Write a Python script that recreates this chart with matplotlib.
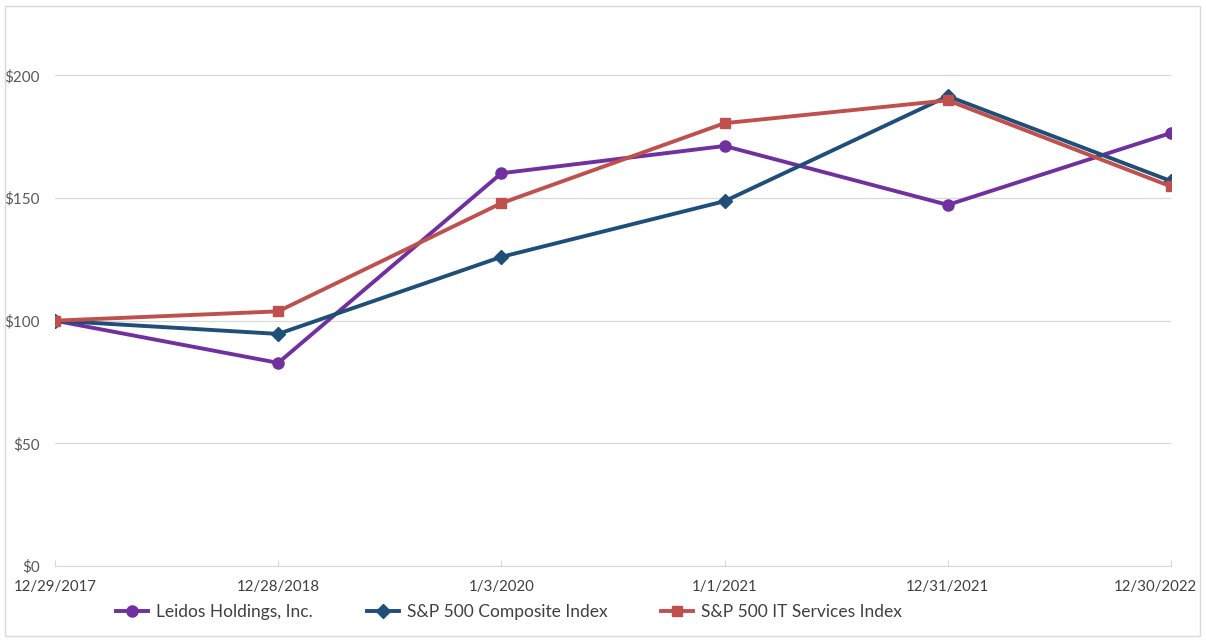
import matplotlib.pyplot as plt
import matplotlib.transforms as mtransforms
from matplotlib.patches import Rectangle
from matplotlib.ticker import FuncFormatter

dates = ["12/29/2017", "12/28/2018", "1/3/2020", "1/1/2021", "12/31/2021", "12/30/2022"]
leidos = [100, 82.8, 160.1, 171.2, 147.2, 176.5]
sp500 = [100, 94.6, 126.0, 148.7, 191.5, 156.9]
it_services = [100, 103.8, 147.9, 180.5, 189.8, 154.7]

plt.rcParams['font.family'] = ['Lato', 'DejaVu Sans']

fig = plt.figure(figsize=(12.06, 6.42), dpi=100)
ax = fig.add_axes([55 / 1206, 76 / 642, (1171 - 55) / 1206, (566 - 14) / 642])

x = list(range(len(dates)))
ax.plot(x, leidos, color='#7030A0', lw=2.8, marker='o', ms=8, label='Leidos Holdings, Inc.')
ax.plot(x, sp500, color='#1F4E79', lw=2.8, marker='D', ms=7, label='S&P 500 Composite Index')
ax.plot(x, it_services, color='#C0504D', lw=2.8, marker='s', ms=7.5, label='S&P 500 IT Services Index')

ax.set_xlim(0, len(dates) - 1)
ax.set_ylim(0, 225)
ax.set_yticks([0, 50, 100, 150, 200])
ax.yaxis.set_major_formatter(FuncFormatter(lambda v, p: '$%d' % v))
ax.set_xticks(x)
ax.set_xticklabels(dates)
ax.grid(axis='y', color='#D9D9D9', lw=0.9)
ax.set_axisbelow(True)
for s in ['top', 'right', 'left']:
    ax.spines[s].set_visible(False)
ax.spines['bottom'].set_color('#D9D9D9')
ax.tick_params(axis='y', length=0, pad=11, labelsize=11, labelcolor='#595959')
ax.tick_params(axis='x', length=4, direction='in', color='#D9D9D9', pad=10,
               labelsize=10.8, labelcolor='#404040')

# last date label sits a bit left so it stays inside the chart box
last = ax.get_xticklabels()[-1]
last.set_transform(last.get_transform() + mtransforms.ScaledTranslation(-16 / 100, 0, fig.dpi_scale_trans))

fig.legend(loc='center', bbox_to_anchor=(509 / 1206, 1 - 612 / 642), ncol=3,
           frameon=False, fontsize=12.5, labelcolor='#404040', columnspacing=3.1,
           handlelength=1.85, handletextpad=0.45)

fig.patches.append(Rectangle((5 / 1206, 6 / 642), 1195 / 1206, 630 / 642,
                             transform=fig.transFigure, fill=False,
                             edgecolor='#D9D9D9', lw=1))

plt.savefig('out.png')
